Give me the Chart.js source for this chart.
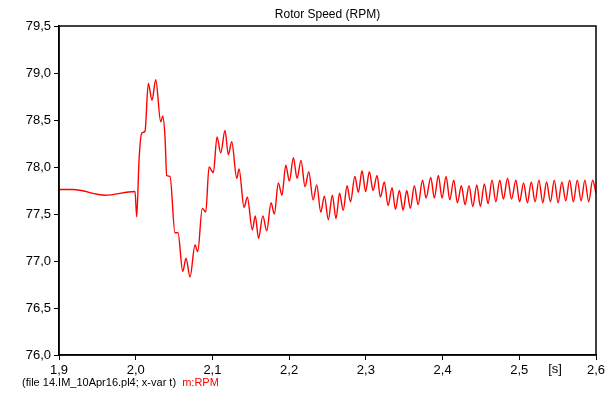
<!DOCTYPE html>
<html>
<head>
<meta charset="utf-8">
<script src="https://cdn.jsdelivr.net/npm/chart.js@4/dist/chart.umd.min.js"></script>
<style>
  body { margin: 0; background: #fff; }
  #wrap { width: 615px; height: 394px; position: relative; }
</style>
</head>
<body>
<div id="wrap"><canvas id="rpmChart"></canvas></div>
<script>
// time [s] and rotor speed [RPM] samples (turning points of the trace)
var times = [
  1.9000, 1.9183, 1.9600, 1.9991, 2.0013, 2.0043, 2.0078, 2.0121, 2.0164, 2.0213,
  2.0261, 2.0326, 2.0352, 2.0382, 2.0404, 2.0447, 2.0512, 2.0551, 2.0613, 2.0656,
  2.0708, 2.0773, 2.0808, 2.0868, 2.0913, 2.0956, 2.1012, 2.1060, 2.1108, 2.1164,
  2.1207, 2.1252, 2.1317, 2.1347, 2.1412, 2.1455, 2.1520, 2.1559, 2.1601, 2.1657,
  2.1708, 2.1764, 2.1807, 2.1859, 2.1907, 2.1956, 2.2003, 2.2055, 2.2103, 2.2155,
  2.2207, 2.2256, 2.2312, 2.2360, 2.2412, 2.2459, 2.2511, 2.2563, 2.2611, 2.2657,
  2.2705, 2.2755, 2.2800, 2.2857, 2.2902, 2.2950, 2.2997, 2.3046, 2.3094, 2.3146,
  2.3189, 2.3241, 2.3289, 2.3342, 2.3385, 2.3437, 2.3485, 2.3533, 2.3580, 2.3632,
  2.3681, 2.3739, 2.3785, 2.3846, 2.3893, 2.3945, 2.3993, 2.4046, 2.4094, 2.4146,
  2.4193, 2.4245, 2.4293, 2.4345, 2.4394, 2.4446, 2.4493, 2.4545, 2.4593, 2.4645,
  2.4694, 2.4746, 2.4793, 2.4847, 2.4899, 2.4956, 2.5004, 2.5056, 2.5106, 2.5156,
  2.5206, 2.5256, 2.5306, 2.5356, 2.5406, 2.5456, 2.5506, 2.5555, 2.5606, 2.5656,
  2.5705, 2.5756, 2.5806, 2.5855, 2.5905, 2.5956, 2.6000
];
var rpm = [
  77.76, 77.76, 77.70, 77.74, 77.47, 78.07, 78.36, 78.38, 78.89, 78.71,
  78.93, 78.48, 78.54, 78.32, 77.91, 77.90, 77.30, 77.30, 76.89, 77.03,
  76.83, 77.17, 77.10, 77.56, 77.52, 78.00, 77.94, 78.32, 78.15, 78.39,
  78.13, 78.27, 77.88, 77.98, 77.57, 77.68, 77.33, 77.48, 77.24, 77.48,
  77.32, 77.62, 77.50, 77.83, 77.70, 78.02, 77.85, 78.10, 77.88, 78.07,
  77.79, 77.95, 77.65, 77.81, 77.52, 77.69, 77.44, 77.70, 77.45, 77.72,
  77.54, 77.80, 77.63, 77.90, 77.73, 77.96, 77.74, 77.95, 77.75, 77.91,
  77.68, 77.84, 77.59, 77.78, 77.55, 77.75, 77.54, 77.75, 77.56, 77.80,
  77.60, 77.86, 77.67, 77.89, 77.67, 77.91, 77.67, 77.90, 77.65, 77.86,
  77.62, 77.80, 77.60, 77.80, 77.58, 77.81, 77.58, 77.82, 77.61, 77.86,
  77.63, 77.86, 77.66, 77.88, 77.66, 77.86, 77.63, 77.83, 77.62, 77.84,
  77.63, 77.86, 77.62, 77.84, 77.63, 77.86, 77.62, 77.84, 77.64, 77.86,
  77.63, 77.86, 77.64, 77.86, 77.63, 77.86, 77.72
];

var xMin = 1.9, xMax = 2.6, xStep = 0.1;
var yMin = 76.0, yMax = 79.5, yStep = 0.5;

var points = times.map(function (t, i) { return { x: t, y: rpm[i] }; });

function comma(v) {
  return v.toFixed(1).replace('.', ',');
}

// frame, title, unit and file caption
var decorations = {
  id: 'decorations',
  afterDraw: function (chart) {
    var ctx = chart.ctx;
    var a = chart.chartArea;
    ctx.save();
    ctx.strokeStyle = '#000';
    ctx.lineWidth = 1.5;
    ctx.strokeRect(a.left, a.top, a.right - a.left, a.bottom - a.top);

    ctx.fillStyle = '#000';
    ctx.font = '12px "Liberation Sans", Arial, sans-serif';
    ctx.textAlign = 'center';
    ctx.textBaseline = 'middle';
    ctx.fillText('Rotor Speed (RPM)', (a.left + a.right) / 2, 15);

    ctx.font = '13px "Liberation Sans", Arial, sans-serif';
    ctx.fillText('[s]', 555, 369);

    ctx.font = '11px "Liberation Sans", Arial, sans-serif';
    ctx.textAlign = 'left';
    var cap = '(file 14.IM_10Apr16.pl4; x-var t)  ';
    ctx.fillText(cap, 22, 383);
    ctx.fillStyle = '#ff0000';
    ctx.fillText('m:RPM', 22 + ctx.measureText(cap).width, 383);
    ctx.restore();
  }
};

var ctx = document.getElementById('rpmChart').getContext('2d');
var rpmChart = new Chart(ctx, {
  type: 'line',
  data: {
    datasets: [{
      data: points,
      borderColor: '#ff0000',
      borderWidth: 1.4,
      pointRadius: 0,
      cubicInterpolationMode: 'monotone',
      fill: false
    }]
  },
  options: {
    responsive: true,
    maintainAspectRatio: false,
    animation: false,
    layout: { padding: { top: 26, right: 19, left: 0, bottom: 0 } },
    plugins: {
      legend: { display: false },
      tooltip: { enabled: false }
    },
    scales: {
      x: {
        type: 'linear',
        min: xMin,
        max: xMax,
        afterFit: function (scale) { scale.height = 39; },
        afterBuildTicks: function (scale) {
          var ticks = [];
          for (var v = xMin; v <= xMax + 1e-9; v += xStep) ticks.push({ value: +v.toFixed(2) });
          scale.ticks = ticks;
        },
        ticks: {
          color: '#000',
          padding: 3,
          maxRotation: 0,
          font: { family: '"Liberation Sans", Arial, sans-serif', size: 13 },
          callback: function (v) { return comma(v); }
        },
        grid: { drawOnChartArea: false, drawTicks: true, tickLength: 5, color: '#000', lineWidth: 1 },
        border: { display: true, color: '#000', width: 1.5 }
      },
      y: {
        min: yMin,
        max: yMax,
        afterFit: function (scale) { scale.width = 59; },
        afterBuildTicks: function (scale) {
          var ticks = [];
          for (var v = yMin; v <= yMax + 1e-9; v += yStep) ticks.push({ value: +v.toFixed(2) });
          scale.ticks = ticks;
        },
        ticks: {
          color: '#000',
          padding: 3,
          font: { family: '"Liberation Sans", Arial, sans-serif', size: 13 },
          callback: function (v) { return comma(v); }
        },
        grid: { drawOnChartArea: false, drawTicks: true, tickLength: 5, color: '#000', lineWidth: 1 },
        border: { display: true, color: '#000', width: 1.5 }
      }
    }
  },
  plugins: [decorations]
});
</script>
</body>
</html>
